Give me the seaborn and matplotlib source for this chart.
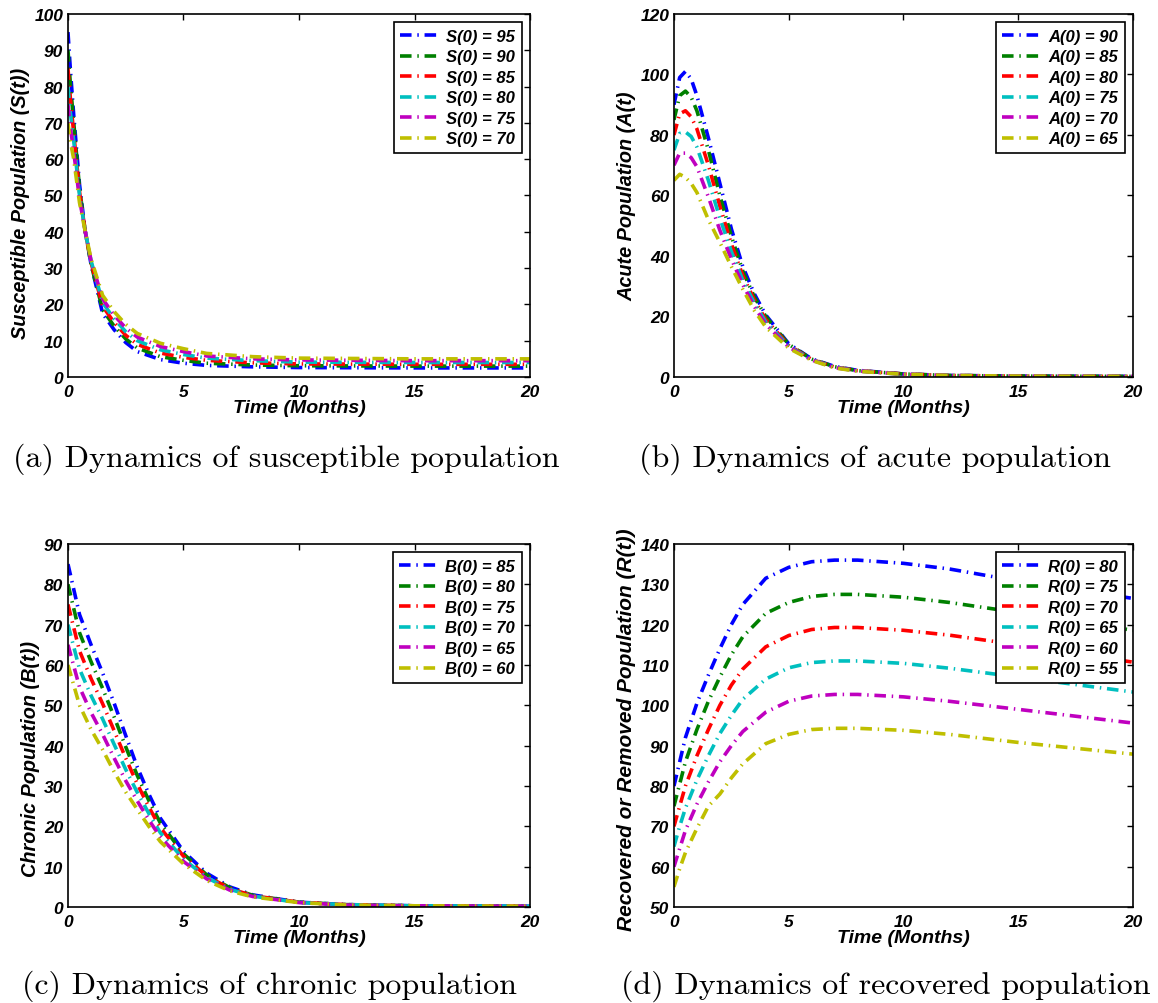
# SIR-type model dynamics: four panels, six initial conditions each
import numpy as np
import pandas as pd
import matplotlib
matplotlib.use('Agg')
import matplotlib.pyplot as plt
import seaborn as sb

# MATLAB default line colours b, g, r, c, m, y
colors = ['#0000ff', '#008000', '#ff0000', '#00bfbf', '#bf00bf', '#bfbf00']

# (a) susceptible
t_s = [0, 0.1, 0.25, 0.5, 0.75, 1, 1.5, 2, 2.5, 3, 4, 5, 6, 8, 10, 15, 20]
s_init = [95, 90, 85, 80, 75, 70]
s_vals = [
    [95, 85, 72, 53, 40, 31, 17.5, 13, 9.5, 7, 4.8, 3.8, 3.2, 2.8, 2.6, 2.5, 2.5],
    [90, 81, 70, 52, 40, 31, 18.5, 14, 10.5, 8, 5.6, 4.6, 3.8, 3.3, 3.1, 3.0, 3.0],
    [85, 77, 67, 51, 40, 31.5, 19.5, 15, 11.5, 9, 6.6, 5.4, 4.6, 3.9, 3.6, 3.5, 3.5],
    [80, 73, 65, 50, 40, 32, 20.5, 16, 12.5, 10, 7.5, 6.2, 5.2, 4.5, 4.1, 4.0, 4.0],
    [75, 69, 62, 49, 40, 32, 21.5, 17, 13.5, 11, 8.4, 7.0, 5.8, 5.0, 4.7, 4.5, 4.5],
    [70, 65, 60, 48, 40, 32.5, 22.5, 18, 14.5, 12, 9.3, 7.8, 6.5, 5.6, 5.2, 5.0, 5.0],
]

# (b) acute
t_a = [0, 0.25, 0.5, 0.75, 1, 1.5, 2, 2.5, 3, 3.5, 4, 5, 6, 7, 8, 10, 12, 15, 20]
a_init = [90, 85, 80, 75, 70, 65]
a_vals = [
    [90, 99, 101, 98.5, 93, 79, 64, 49, 36.5, 27.5, 20.5, 11, 6, 3.5, 2.2, 1.0, 0.5, 0.3, 0.2],
    [85, 93, 94.5, 92.5, 88, 75, 60, 46.5, 35, 26.5, 20, 10.8, 5.9, 3.4, 2.1, 1.0, 0.5, 0.3, 0.2],
    [80, 87, 88, 86, 82, 70, 56.5, 44, 33.5, 25.5, 19, 10.5, 5.8, 3.3, 2.1, 1.0, 0.5, 0.3, 0.2],
    [75, 80.5, 81, 79.5, 76, 65, 52.5, 41.5, 32, 24.5, 18.2, 10.2, 5.7, 3.2, 2.0, 0.9, 0.5, 0.3, 0.2],
    [70, 74, 74, 72.5, 69.5, 59.5, 48.5, 39, 30.5, 23.3, 17.4, 9.9, 5.6, 3.1, 2.0, 0.9, 0.5, 0.3, 0.2],
    [65, 67, 66, 64, 61, 52, 44.5, 36.5, 29, 22, 16.5, 9.5, 5.5, 3.0, 1.9, 0.9, 0.5, 0.3, 0.2],
]

# (c) chronic
t_b = [0, 0.5, 1, 1.5, 2, 2.5, 3, 3.5, 4, 5, 6, 7, 8, 10, 12, 15, 20]
b_init = [85, 80, 75, 70, 65, 60]
b_vals = [
    [85, 72.5, 65, 58, 50.5, 42.5, 34.7, 28, 22, 13.8, 8.4, 5, 3, 1.2, 0.6, 0.3, 0.2],
    [80, 68, 60.8, 54.2, 47.1, 39.7, 32.6, 26.4, 20.8, 13.2, 8.0, 4.8, 2.9, 1.2, 0.6, 0.3, 0.2],
    [75, 63.5, 56.6, 50.4, 43.7, 36.9, 30.5, 24.8, 19.6, 12.6, 7.7, 4.6, 2.8, 1.2, 0.6, 0.3, 0.2],
    [70, 59, 52.4, 46.6, 40.3, 34.1, 28.4, 23.2, 18.4, 11.9, 7.3, 4.4, 2.7, 1.1, 0.6, 0.3, 0.2],
    [65, 54.5, 48.2, 42.8, 36.9, 31.3, 26.3, 21.6, 17.3, 11.3, 7.0, 4.2, 2.6, 1.1, 0.5, 0.3, 0.2],
    [60, 50, 44, 39, 33.5, 28.5, 24.2, 20, 16.2, 10.7, 6.6, 4, 2.5, 1.1, 0.5, 0.3, 0.2],
]

# (d) recovered
t_r = [0, 0.25, 0.5, 1, 1.5, 2, 2.5, 3, 4, 5, 6, 7, 8, 10, 12, 15, 20]
r_init = [80, 75, 70, 65, 60, 55]
r_vals = [
    [80, 86, 92, 100.5, 107.5, 114, 120, 125, 131.5, 134.2, 135.6, 136, 136, 135.2, 133.8, 130.8, 126.5],
    [75, 80.5, 86, 94, 101, 107, 112.5, 117, 122.8, 125.5, 127, 127.5, 127.5, 126.8, 125.5, 123, 118.6],
    [70, 75, 80, 87.5, 94, 100, 105, 109, 114.5, 117.3, 118.8, 119.3, 119.3, 118.6, 117.4, 115, 110.7],
    [65, 70, 74.5, 81.5, 87.5, 93, 97.5, 101.5, 106.5, 109.3, 110.6, 111, 111, 110.4, 109.2, 107, 103.3],
    [60, 64.5, 69, 75.5, 81, 86, 90, 93.5, 98.3, 101, 102.3, 102.7, 102.7, 102.1, 101, 99, 95.6],
    [55, 59.5, 63.5, 69.5, 75, 78, 82, 85.5, 90.5, 92.8, 94, 94.3, 94.3, 93.8, 92.8, 90.8, 87.9],
]

panels = [
    ('S', t_s, s_init, s_vals, 'Susceptible Population (S(t))', (0, 100), np.arange(0, 101, 10),
     '(a) Dynamics of susceptible population'),
    ('A', t_a, a_init, a_vals, 'Acute Population (A(t)', (0, 120), np.arange(0, 121, 20),
     '(b) Dynamics of acute population'),
    ('B', t_b, b_init, b_vals, 'Chronic Population (B(t))', (0, 90), np.arange(0, 91, 10),
     '(c) Dynamics of chronic population'),
    ('R', t_r, r_init, r_vals, 'Recovered or Removed Population (R(t))', (50, 140), np.arange(50, 141, 10),
     '(d) Dynamics of recovered population'),
]

sb.set_style('white')
plt.rcParams['font.family'] = ['Liberation Sans', 'DejaVu Sans']
plt.rcParams['text.color'] = 'black'
plt.rcParams['axes.labelcolor'] = 'black'
plt.rcParams['xtick.color'] = 'black'
plt.rcParams['ytick.color'] = 'black'

fig = plt.figure(figsize=(11.58, 10.04), dpi=100)
axes_pos = [
    [0.0587, 0.6235, 0.3990, 0.3616],
    [0.5820, 0.6235, 0.3964, 0.3616],
    [0.0587, 0.0956, 0.3990, 0.3616],
    [0.5820, 0.0956, 0.3964, 0.3616],
]
caption_pos = [(0.247, 0.543), (0.756, 0.543), (0.233, 0.018), (0.765, 0.018)]
ylab_size = [14.3, 14.3, 14.3, 15]
ylab_y = [0.48, 0.5, 0.41, 0.49]

for (var, t, inits, vals, ylab, ylim, yticks, cap), pos, cpos, ysz, yy in zip(
        panels, axes_pos, caption_pos, ylab_size, ylab_y):
    ax = fig.add_axes(pos)
    for init, v, c in zip(inits, vals, colors):
        df = pd.DataFrame({'t': t, 'y': v})
        sb.lineplot(data=df, x='t', y='y', ax=ax, color=c, linewidth=2.6,
                    label=f'{var}(0) = {init}')
    for ln in ax.lines:
        ln.set_linestyle((0, (3.2, 1.6, 0.4, 1.6)))
    ax.set_xlim(0, 20)
    ax.set_ylim(*ylim)
    ax.set_xticks([0, 5, 10, 15, 20])
    ax.set_yticks(yticks)
    ax.tick_params(axis='x', pad=5)
    ax.tick_params(direction='in', top=True, right=True, length=4, width=1,
                   labelsize=12.5, colors='black')
    for lab in ax.get_xticklabels() + ax.get_yticklabels():
        lab.set_fontweight('bold')
        lab.set_fontstyle('italic')
    for sp in ax.spines.values():
        sp.set_linewidth(1.2)
        sp.set_color('black')
    ax.set_xlabel('Time (Months)', fontsize=14, fontweight='bold', fontstyle='italic', labelpad=0)
    ax.set_ylabel(ylab, fontsize=ysz, fontweight='bold', fontstyle='italic', labelpad=3)
    ax.yaxis.label.set_y(yy)
    leg = ax.legend(loc='upper right', fancybox=False, framealpha=1, edgecolor='black',
                    handlelength=2.4, handletextpad=0.35, borderaxespad=0.5, labelspacing=0.33,
                    borderpad=0.4, prop={'weight': 'bold', 'style': 'italic', 'size': 12})
    leg.get_frame().set_linewidth(1.2)
    fig.text(cpos[0], cpos[1], cap, ha='center', va='center', fontsize=23, family='cmr10')

plt.savefig('out.png', dpi=100)
